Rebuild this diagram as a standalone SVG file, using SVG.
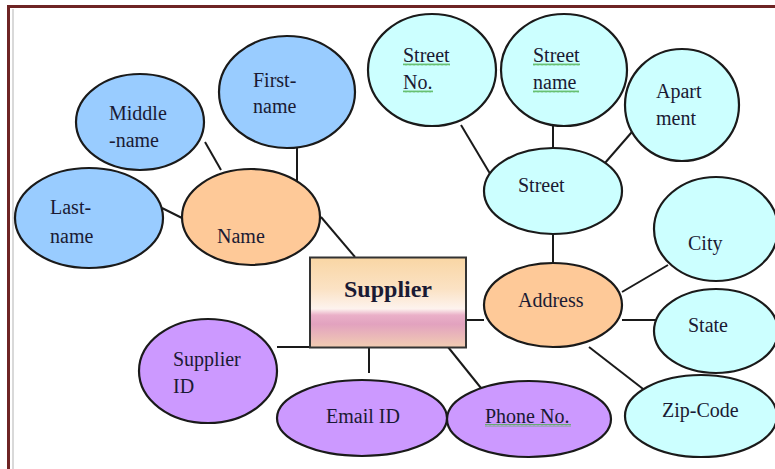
<svg xmlns="http://www.w3.org/2000/svg" width="775" height="469" viewBox="0 0 775 469" font-family="Liberation Serif, serif">
<style>
.e{stroke:#1a1a1a;stroke-width:2.2}
.blue{fill:#99ccff}
.cyan{fill:#ccffff}
.orange{fill:#fec998}
.purple{fill:#cc99ff}
.t{font-family:'Liberation Serif','Times New Roman',serif;font-size:20px;fill:#1a1a33}
.c line{stroke:#1a1a1a;stroke-width:2}
.sq{fill:none;stroke:#4cb04c;stroke-width:0.8}
</style>
<defs>
<linearGradient id="g" x1="0" y1="0" x2="0" y2="1">
<stop offset="0" stop-color="#f9d6a4"/>
<stop offset="0.35" stop-color="#fbe2c4"/>
<stop offset="0.57" stop-color="#fdf3ee"/>
<stop offset="0.64" stop-color="#eab0c8"/>
<stop offset="0.74" stop-color="#e2a2bf"/>
<stop offset="1" stop-color="#f2cdb2"/>
</linearGradient>
<pattern id="w" width="4" height="3" patternUnits="userSpaceOnUse">
<path d="M0,2.5 L1,0.5 L2,2.5 L3,0.5 L4,2.5" class="sq"/>
</pattern>
</defs>
<rect width="775" height="469" fill="#fff"/>
<g id="border">
<line x1="8.5" y1="6.5" x2="775" y2="6.5" stroke="#6e2424" stroke-width="3"/>
<line x1="8.5" y1="5" x2="8.5" y2="469" stroke="#6e2424" stroke-width="3"/>
<line x1="13" y1="9" x2="13" y2="469" stroke="#d9d9d9" stroke-width="2"/>
</g>
<g class="c" id="connectors">
<line x1="205" y1="142" x2="221" y2="170"/>
<line x1="297" y1="148" x2="297" y2="182"/>
<line x1="162" y1="208" x2="182" y2="218"/>
<line x1="321" y1="217" x2="355" y2="257"/>
<line x1="461" y1="125" x2="495" y2="182"/>
<line x1="553" y1="126" x2="553" y2="148"/>
<line x1="638" y1="125" x2="598" y2="171"/>
<line x1="553" y1="234" x2="553" y2="263"/>
<line x1="622" y1="292" x2="668" y2="265"/>
<line x1="622" y1="320" x2="657" y2="320"/>
<line x1="589" y1="347" x2="647" y2="392"/>
<line x1="460" y1="320" x2="484" y2="320"/>
<line x1="277" y1="347" x2="311" y2="347"/>
<line x1="369" y1="345" x2="369" y2="373"/>
<line x1="448" y1="347" x2="485" y2="393"/>
</g>
<g id="first-name"><ellipse class="e blue" cx="287" cy="92" rx="68" ry="56"/><text class="t" x="253" y="87">First-</text><text class="t" x="253" y="113">name</text></g>
<g id="middle-name"><ellipse class="e blue" cx="140" cy="122" rx="64" ry="48"/><text class="t" x="109" y="120">Middle</text><text class="t" x="109" y="147">-name</text></g>
<g id="last-name"><ellipse class="e blue" cx="89" cy="218" rx="74" ry="50"/><text class="t" x="50" y="214">Last-</text><text class="t" x="50" y="243">name</text></g>
<g id="name"><ellipse class="e orange" cx="251" cy="217" rx="69" ry="48"/><text class="t" x="217" y="243">Name</text></g>
<g id="street-no"><ellipse class="e cyan" cx="432" cy="70" rx="64" ry="56"/><rect x="403" y="63" width="47" height="3" fill="url(#w)"/><rect x="403" y="90" width="30" height="3" fill="url(#w)"/><text class="t" x="403" y="62">Street</text><text class="t" x="403" y="89">No.</text></g>
<g id="street-name"><ellipse class="e cyan" cx="564" cy="70" rx="63" ry="56"/><rect x="533" y="63" width="47" height="3" fill="url(#w)"/><rect x="533" y="90" width="46" height="3" fill="url(#w)"/><text class="t" x="533" y="62">Street</text><text class="t" x="533" y="89">name</text></g>
<g id="apartment"><ellipse class="e cyan" cx="682" cy="105" rx="57" ry="56"/><text class="t" x="656" y="98">Apart</text><text class="t" x="656" y="125">ment</text></g>
<g id="street"><ellipse class="e cyan" cx="553" cy="191" rx="69" ry="43"/><text class="t" x="518" y="192">Street</text></g>
<g id="city"><ellipse class="e cyan" cx="716" cy="229" rx="62" ry="52"/><text class="t" x="688" y="250">City</text></g>
<g id="address"><ellipse class="e orange" cx="553" cy="305" rx="69" ry="42"/><text class="t" x="518" y="307">Address</text></g>
<g id="state"><ellipse class="e cyan" cx="716" cy="331" rx="62" ry="42"/><text class="t" x="688" y="332">State</text></g>
<g id="zip-code"><ellipse class="e cyan" cx="701" cy="416" rx="76" ry="41"/><text class="t" x="662" y="417">Zip-Code</text></g>
<g id="phone-no"><ellipse class="e purple" cx="529" cy="419" rx="82" ry="38"/><rect x="485" y="424" width="86" height="3" fill="url(#w)"/><text class="t" x="485" y="423">Phone No.</text></g>
<g id="email-id"><ellipse class="e purple" cx="362" cy="418" rx="85" ry="38"/><text class="t" x="326" y="423">Email ID</text></g>
<g id="supplier-id"><ellipse class="e purple" cx="208" cy="371" rx="69" ry="52"/><text class="t" x="173" y="366">Supplier</text><text class="t" x="173" y="393">ID</text></g>
<g id="supplier"><rect x="310" y="257.5" width="156" height="90" fill="url(#g)" stroke="#333" stroke-width="2"/><text class="t" x="388" y="297" text-anchor="middle" font-weight="bold" style="font-size:24px">Supplier</text></g>
</svg>
